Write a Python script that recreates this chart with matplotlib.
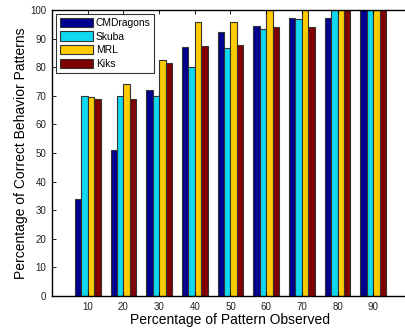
import numpy as np
import matplotlib.pyplot as plt

plt.rcParams['font.family'] = ['Liberation Sans', 'DejaVu Sans']

observed = [10, 20, 30, 40, 50, 60, 70, 80, 90]
teams = ['CMDragons', 'Skuba', 'MRL', 'Kiks']
cmdragons = [34, 51, 72, 87, 92.3, 94.3, 97.2, 97.2, 100]
skuba = [70, 70, 70, 80, 86.7, 93.5, 96.7, 100, 100]
mrl = [69.5, 74, 82.6, 95.7, 95.7, 100, 100, 100, 100]
kiks = [68.8, 68.8, 81.3, 87.5, 87.8, 94, 94, 100, 100]

series = [cmdragons, skuba, mrl, kiks]
colors = ['#00008f', '#10d8f0', '#ffcc00', '#800000']

fig = plt.figure(figsize=(4.06, 3.30), dpi=100)
ax = fig.add_axes([52/406, 34/330, 357/406, 286/330])

x = np.arange(1, len(observed) + 1)
w = 0.18
for i, (vals, c) in enumerate(zip(series, colors)):
    ax.bar(x + (i - 1.5) * w, vals, w, color=c, edgecolor='#333333',
           linewidth=0.8, label=teams[i])

ax.set_xlim(0, 10)
ax.set_ylim(0, 100)
ax.set_xticks(x)
ax.set_xticklabels([str(v) for v in observed])
ax.set_yticks(np.arange(0, 101, 10))
ax.tick_params(direction='in', top=True, right=True, labelsize=7, length=3,
               width=0.6, pad=4, labelcolor='#222222')
for s in ax.spines.values():
    s.set_linewidth(1.0)

ax.set_xlabel('Percentage of Pattern Observed', fontsize=10, labelpad=1)
ax.set_ylabel('Percentage of Correct Behavior Patterns', fontsize=10, labelpad=2)

leg = ax.legend(loc='upper left', fontsize=7.4, frameon=True, fancybox=False,
                handlelength=3.2, handleheight=1.0, handletextpad=0.3,
                borderpad=0.35, labelspacing=0.35, borderaxespad=0.4)
leg.get_frame().set_edgecolor('black')
leg.get_frame().set_linewidth(0.8)

fig.savefig('out.png', dpi=100)
